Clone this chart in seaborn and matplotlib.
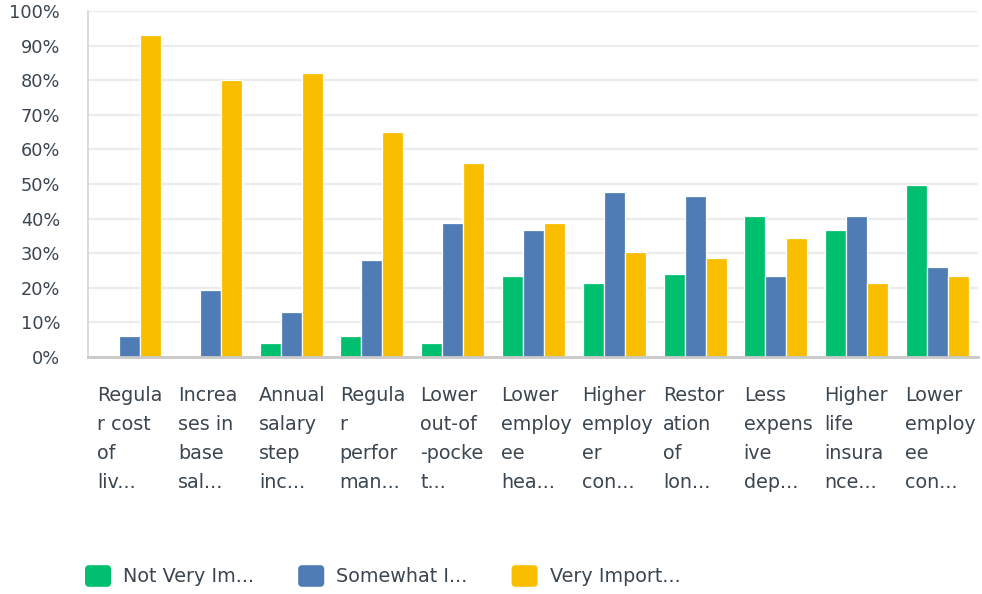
import matplotlib
matplotlib.use("Agg")
import matplotlib.pyplot as plt
import seaborn as sns
import pandas as pd
from matplotlib.patches import FancyBboxPatch, Patch
from matplotlib.legend_handler import HandlerPatch

categories = [
    "Regula\nr cost\nof\nliv...",
    "Increa\nses in\nbase\nsal...",
    "Annual\nsalary\nstep\ninc...",
    "Regula\nr\nperfor\nman...",
    "Lower\nout-of\n-pocke\nt...",
    "Lower\nemploy\nee\nhea...",
    "Higher\nemploy\ner\ncon...",
    "Restor\nation\nof\nlon...",
    "Less\nexpens\nive\ndep...",
    "Higher\nlife\ninsura\nnce...",
    "Lower\nemploy\nee\ncon...",
]
series = ["Not Very Im...", "Somewhat I...", "Very Import..."]
not_very = [0.0, 0.0, 4.0, 6.1, 4.0, 23.4, 21.4, 23.9, 40.7, 36.6, 49.6]
somewhat = [6.1, 19.3, 13.0, 28.0, 38.7, 36.6, 47.6, 46.4, 23.4, 40.7, 26.0]
very = [93.2, 80.2, 82.2, 64.9, 56.0, 38.7, 30.3, 28.6, 34.3, 21.4, 23.4]
yticks = [0, 10, 20, 30, 40, 50, 60, 70, 80, 90, 100]
colors = ["#00BF6F", "#507CB6", "#F9BE00"]

rows = []
for s, vals in zip(series, [not_very, somewhat, very]):
    for c, v in zip(categories, vals):
        rows.append({"cat": c, "series": s, "val": v})
df = pd.DataFrame(rows)

sns.set_style("white")
plt.rcParams["font.family"] = ["DejaVu Sans"]
text_color = "#3b4650"

fig = plt.figure(figsize=(9.82, 5.94), dpi=100)
W, H = 982, 594
ax = fig.add_axes([88 / W, 1 - 357 / H, 890 / W, 346 / H])

sns.barplot(data=df, x="cat", y="val", hue="series", order=categories,
            hue_order=series, palette=colors, width=0.78, edgecolor="white",
            linewidth=0.9, legend=False, errorbar=None, saturation=1, ax=ax)

ax.set_xlim(-0.514, 10.50)
ax.set_ylim(0, 100)
ax.set_yticks(yticks)
ax.set_yticklabels([f"{v}%" for v in yticks], fontsize=12.8, color=text_color)
ax.set_xticks([i - 0.40 for i in range(len(categories))])
ax.set_xticklabels(categories, fontsize=13.8, color=text_color, ha="left",
                   linespacing=1.66)
ax.tick_params(axis="both", length=0)
ax.tick_params(axis="y", pad=20)
ax.tick_params(axis="x", pad=21)
ax.set_xlabel("")
ax.set_ylabel("")

ax.yaxis.grid(True, color="#ececec", linewidth=1.6)
ax.set_axisbelow(True)
for sp in ["top", "right"]:
    ax.spines[sp].set_visible(False)
ax.spines["left"].set_color("#d6d6d6")
ax.spines["left"].set_linewidth(1.2)
ax.spines["bottom"].set_color("#c9c9c9")
ax.spines["bottom"].set_linewidth(2)


class RoundHandler(HandlerPatch):
    def create_artists(self, legend, orig_handle, xdescent, ydescent,
                       width, height, fontsize, trans):
        p = FancyBboxPatch((-xdescent, -ydescent), width, height,
                           boxstyle="round,pad=0,rounding_size=3",
                           facecolor=orig_handle.get_facecolor(),
                           edgecolor="none", transform=trans)
        return [p]


handles = [Patch(facecolor=c, label=s) for c, s in zip(colors, series)]
fig.legend(handles=handles, labels=series, loc="center left",
           bbox_to_anchor=(85 / W, 1 - 576 / H), ncol=3, frameon=False,
           fontsize=13.8, labelcolor=text_color, handlelength=1.36,
           handleheight=1.36, handletextpad=0.62, columnspacing=2.3,
           borderpad=0, borderaxespad=0,
           handler_map={Patch: RoundHandler()})

fig.savefig("out.png", dpi=100)
